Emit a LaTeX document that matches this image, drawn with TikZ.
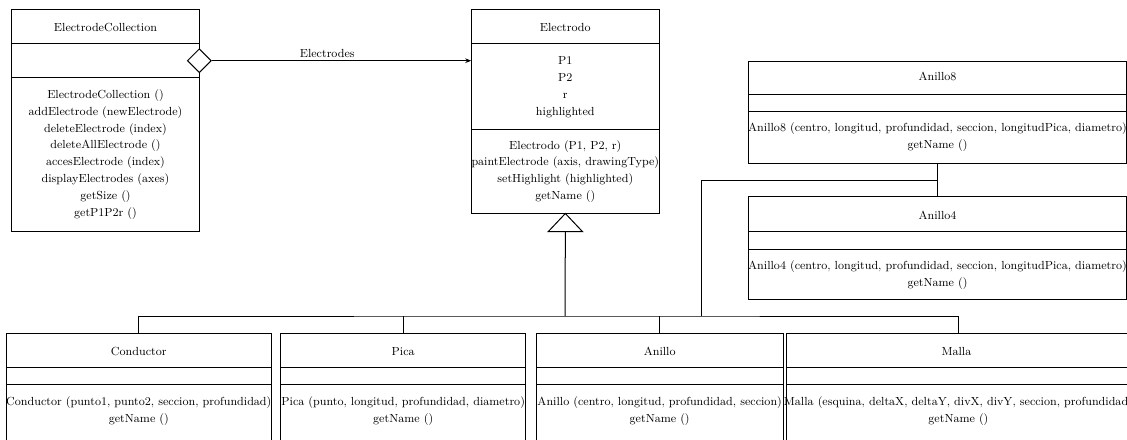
\documentclass[tikz,border=0pt]{standalone}
\usetikzlibrary{fit,shapes.geometric,arrows.meta,calc}
\begin{document}
\begin{tikzpicture}[x=0.75pt,y=-0.75pt,
  every node/.style={font=\fontsize{8.8}{12.7}\selectfont},
  classbox/.style={draw,line width=0.75pt,inner sep=0pt},
  sep/.style={line width=0.75pt},
  txt/.style={inner sep=0pt,align=center},
  link/.style={line width=0.75pt}]
\useasboundingbox (0,0) rectangle (1127,439);

% ---- ElectrodeCollection
\node[classbox,fit={(11.7,9.3) (199.3,231)}] (coll) {};
\draw[sep] (11.7,43.3) -- (199.3,43.3) (11.7,77.7) -- (199.3,77.7);
\node[txt] (collT) at (105.5,27.3) {ElectrodeCollection};
\node[txt] (collM) at (105.5,154.5) {ElectrodeCollection ()\\addElectrode (newElectrode)\\deleteElectrode (index)\\deleteAllElectrode ()\\accesElectrode (index)\\displayElectrodes (axes)\\getSize ()\\getP1P2r ()};

% ---- Electrodo
\node[classbox,fit={(471.7,9.3) (659,213)}] (elec) {};
\draw[sep] (471.7,43.3) -- (659,43.3) (471.7,129) -- (659,129);
\node[txt] (elecT) at (565.3,27.3) {Electrodo};
\node[txt] (elecA) at (565.3,87) {P1\\P2\\r\\highlighted};
\node[txt] (elecM) at (565.3,171.5) {Electrodo (P1, P2, r)\\paintElectrode (axis, drawingType)\\setHighlight (highlighted)\\getName ()};

% ---- Anillo8
\node[classbox,fit={(748.3,61) (1126.5,163.3)}] (a8) {};
\draw[sep] (748.3,94.3) -- (1126.5,94.3) (748.3,111.7) -- (1126.5,111.7);
\node[txt] (a8T) at (937.5,76.7) {Anillo8};
\node[txt] (a8M) at (937.5,137) {Anillo8 (centro, longitud, profundidad, seccion, longitudPica, diametro)\\getName ()};

% ---- Anillo4
\node[classbox,fit={(748.3,196.7) (1126.5,299.3)}] (a4) {};
\draw[sep] (748.3,231.7) -- (1126.5,231.7) (748.3,249) -- (1126.5,249);
\node[txt] (a4T) at (937.5,215) {Anillo4};
\node[txt] (a4M) at (937.5,275.5) {Anillo4 (centro, longitud, profundidad, seccion, longitudPica, diametro)\\getName ()};

% ---- bottom row
\node[classbox,fit={(6,333.3) (271.7,470)}] (cond) {};
\draw[sep] (6,367.3) -- (271.7,367.3) (6,384) -- (271.7,384);
\node[txt] (condT) at (138.8,351.7) {Conductor};
\node[txt] (condM) at (138.8,411) {Conductor (punto1, punto2, seccion, profundidad)\\getName ()};

\node[classbox,fit={(280.7,333.3) (525.7,470)}] (pica) {};
\draw[sep] (280.7,367.3) -- (525.7,367.3) (280.7,384) -- (525.7,384);
\node[txt] (picaT) at (403.2,351.7) {Pica};
\node[txt] (picaM) at (403.2,411) {Pica (punto, longitud, profundidad, diametro)\\getName ()};

\node[classbox,fit={(536,333.3) (783.3,470)}] (anillo) {};
\draw[sep] (536,367.3) -- (783.3,367.3) (536,384) -- (783.3,384);
\node[txt] (anilloT) at (659.7,351.7) {Anillo};
\node[txt] (anilloM) at (659.7,411) {Anillo (centro, longitud, profundidad, seccion)\\getName ()};

\node[classbox,fit={(786.7,333.3) (1130,470)}] (malla) {};
\draw[sep] (786.7,367.3) -- (1130,367.3) (786.7,384) -- (1130,384);
\node[txt] (mallaT) at (956.4,351.7) {Malla};
\node[txt] (mallaM) at (958.4,411) {Malla (esquina, deltaX, deltaY, divX, divY, seccion, profundidad)\\getName ()};

% ---- aggregation Electrodes
\node[draw,fill=white,line width=0.75pt,diamond,inner sep=0pt,minimum width=18pt,minimum height=18pt] (agg) at (199.3,60.7) {};
\draw[link,-{Stealth[length=4.5pt,width=3.5pt]}] (agg.east) -- (elec.west |- agg.east)
  node[pos=0.445,above=2pt,inner sep=0pt] (aggL) {Electrodes};

% ---- generalisation tree
\draw[link,fill=white] (elec.south) -- ++(-17,18) -- ++(34,0) -- cycle;
\coordinate (gbase) at ($(elec.south)+(0,18)$);
\coordinate (bus) at (565,316);
\coordinate (busR) at (701.7,316);
\coordinate (ajoin) at ($(a8.south)!0.5!(a4.north)$);
\draw[link] (gbase) -- (bus);
\draw[link] (cond.north) |- (bus) -| (malla.north);
\draw[link] (pica.north) -- (pica.north |- bus);
\draw[link] (anillo.north) -- (anillo.north |- bus);
\draw[link] (a8.south) -- (a4.north);
\draw[link] (ajoin) -| (busR);
\end{tikzpicture}
\end{document}
